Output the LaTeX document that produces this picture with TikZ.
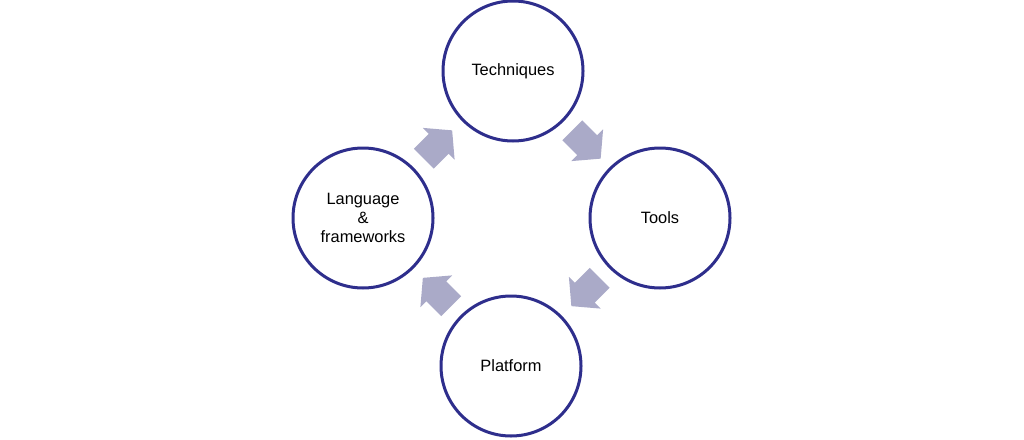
\documentclass[tikz,border=0pt]{standalone}
\usepackage{fontspec}
\setmainfont{Liberation Sans}
\definecolor{ringblue}{RGB}{46,46,140}
\definecolor{arrowfill}{RGB}{170,170,200}
\begin{document}
\begin{tikzpicture}[x=0.75pt,y=-0.75pt,
  ring/.style={circle, draw=ringblue, line width=2.25pt, fill=white,
    minimum size=105pt, inner sep=0pt, align=center,
    font=\fontsize{12.3}{14.25}\selectfont},
  blockarrow/.style={fill=arrowfill, draw=none}]
\useasboundingbox (0,0) rectangle (1024,439);
\node[ring] (tech) at (513,71) {Techniques};
\node[ring] (tools) at (660,218) {Tools};
\node[ring] (plat) at (511,366) {Platform};
\node[ring] (lang) at (363,218) {Language\\\&\\frameworks};
\foreach \cx/\cy/\ang in {438/144.5/45, 586.5/144.5/-45, 585.5/292/-135, 437/292/135}{
  \begin{scope}[shift={(\cx,\cy)}, rotate=\ang]
    \path[blockarrow] (-20,-14) -- (1,-14) -- (1,-22.5) -- (20,0) -- (1,22.5) -- (1,14) -- (-20,14) -- cycle;
  \end{scope}
}
\end{tikzpicture}
\end{document}
